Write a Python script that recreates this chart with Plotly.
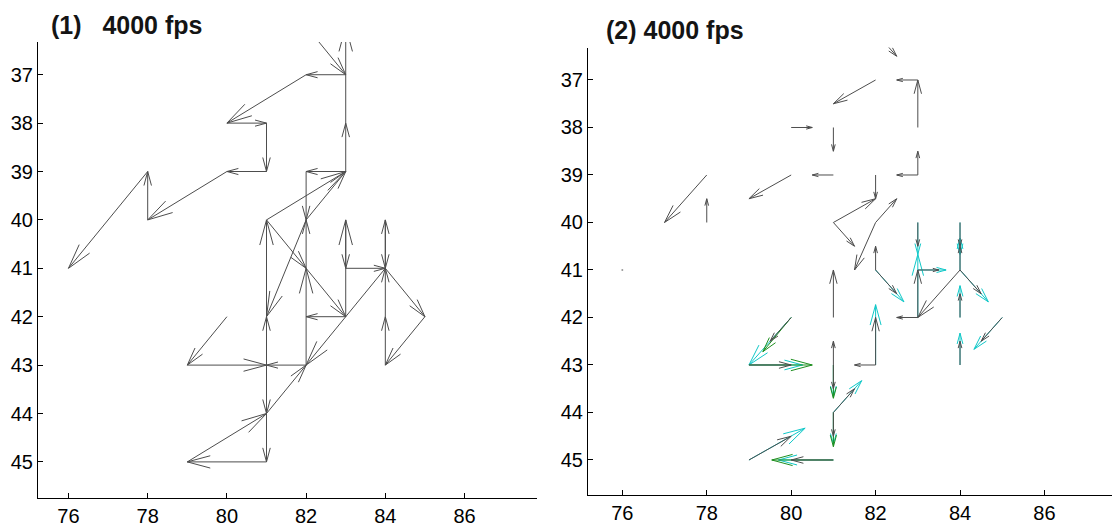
import numpy as np
import plotly.graph_objects as go

# ---------------- data ----------------
# Panel (1): displacement vectors (start x, start y, u, v)
p1_x = [82, 83, 82, 80, 81, 81, 80, 78, 78, 76,
        83, 83, 81, 82, 83, 82, 82, 82, 81, 82,
        83, 83, 83, 83, 84, 84, 84, 84, 84, 85,
        84, 82, 81, 81, 80, 79, 82, 81, 81, 81, 81, 79]
p1_y = [36, 37, 37, 38, 38, 39, 39, 40, 39, 41,
        39, 38, 40, 40, 39, 39, 41, 40, 40, 41,
        42, 42, 40, 41, 40, 41, 42, 43, 41, 42,
        41, 43, 42, 43, 42, 43, 43, 43, 44, 44, 45, 45]
p1_u = [1, -1, -2, 1, 0, -1, -2, 0, -2, 0,
        0, 0, 2, 1, -1, 0, 0, -1, 1, 1,
        -1, 0, 0, 1, 0, 0, 0, 0, 1, -1,
        -2, 0, 0, 0, -1, 2, -1, 0, 1, 0, -2, 2]
p1_v = [1, 0, 1, 0, 1, 0, 1, -1, 2, 0,
        -1, -2, -1, -1, 0, 1, -1, 2, 1, 1,
        0, -2, 1, 0, 1, -1, -1, -1, 1, 1,
        2, -2, -2, -1, 1, 0, 0, 1, -1, 1, 0, -1]

# Panel (2): grey vectors (half-length displacement)
p2_scale = 0.5

# Panel (2): cyan vectors
c_x = [83, 83, 83, 84, 84, 84, 84, 84, 85, 82, 82, 80, 79, 81, 81, 81, 81, 79]
c_y = [40, 42, 41, 40, 41, 41, 42, 43, 42, 41, 43, 42, 43, 43, 44, 44, 45, 45]
c_u = [0, 0, 0.67, 0, 0, 0.67, 0, 0, -0.67, 0.67, 0, -1.0, 1.27, 0, 0.67, 0, -1.3, 1.33]
c_v = [0.67, -1.33, 0, 0.67, -0.67, 0.67, -0.67, -0.67, 0.67, 0.67, -1.27, 1.0, 0, 0.67, -0.67, 0.67, 0, -0.67]

# Panel (2): green vectors
g_x = [80, 79, 81, 81, 81]
g_y = [42, 43, 43, 44, 45]
g_u = [-0.67, 1.5, 0, 0, -1.46]
g_v = [0.72, 0, 0.7, 0.72, 0]

x_ticks = [76, 78, 80, 82, 84, 86]
y_ticks = [37, 38, 39, 40, 41, 42, 43, 44, 45]
titles = ["(1)\u00a0\u00a0 4000 fps", "(2) 4000 fps"]

W, H = 1112, 529
# axis placement (pixels) and ranges
L_dom = (38, 537, 42, 498)      # left, right, top, bottom
L_xr = (75.23, 87.83)
L_yr = (36.324, 45.746)
R_dom = (588, 1112, 47.5, 495)
R_xr = (75.187, 87.60)
R_yr = (36.316, 45.737)


# ---------------- helpers ----------------
def quiver_xy(xs, ys, us, vs, dom, xr, yr, scale=1.0, ratio=0.3, cap=26.0, ang=15.0):
    sx = (dom[1] - dom[0]) / (xr[1] - xr[0])
    sy = (dom[3] - dom[2]) / (yr[1] - yr[0])
    ca, sa = np.cos(np.radians(ang)), np.sin(np.radians(ang))
    X, Y = [], []
    for x, y, u, v in zip(xs, ys, us, vs):
        u = u * scale
        v = v * scale
        if u == 0 and v == 0:
            continue
        tx, ty = x + u, y + v
        X += [x, tx, None]
        Y += [y, ty, None]
        dx, dy = u * sx, v * sy
        L = np.hypot(dx, dy)
        h = min(ratio * L, cap)
        bx, by = -dx / L, -dy / L
        b1 = (bx * ca - by * sa, bx * sa + by * ca)
        b2 = (bx * ca + by * sa, -bx * sa + by * ca)
        X += [tx + h * b1[0] / sx, tx, tx + h * b2[0] / sx, None]
        Y += [ty + h * b1[1] / sy, ty, ty + h * b2[1] / sy, None]
    return X, Y


GREY = "#4d4d4d"
CYAN = "#10c8c8"
GREEN = "#1f8f1f"

fig = go.Figure()

# panel 1
X, Y = quiver_xy(p1_x, p1_y, p1_u, p1_v, L_dom, L_xr, L_yr)
fig.add_trace(go.Scatter(x=X, y=Y, mode="lines", line=dict(color=GREY, width=1),
                         xaxis="x", yaxis="y", hoverinfo="skip"))

# panel 2
X, Y = quiver_xy(c_x, c_y, c_u, c_v, R_dom, R_xr, R_yr, ratio=0.35)
fig.add_trace(go.Scatter(x=X, y=Y, mode="lines", line=dict(color=CYAN, width=1),
                         xaxis="x2", yaxis="y2", hoverinfo="skip"))
X, Y = quiver_xy(g_x, g_y, g_u, g_v, R_dom, R_xr, R_yr, ratio=0.35)
fig.add_trace(go.Scatter(x=X, y=Y, mode="lines", line=dict(color=GREEN, width=1),
                         xaxis="x2", yaxis="y2", hoverinfo="skip"))
X, Y = quiver_xy(p1_x, p1_y, p1_u, p1_v, R_dom, R_xr, R_yr, scale=p2_scale)
fig.add_trace(go.Scatter(x=X, y=Y, mode="lines", line=dict(color=GREY, width=1),
                         xaxis="x2", yaxis="y2", hoverinfo="skip"))
zx = [x for x, u, v in zip(p1_x, p1_u, p1_v) if u == 0 and v == 0]
zy = [y for y, u, v in zip(p1_y, p1_u, p1_v) if u == 0 and v == 0]
fig.add_trace(go.Scatter(x=zx, y=zy, mode="markers", marker=dict(color="#999", size=2),
                         xaxis="x2", yaxis="y2", hoverinfo="skip"))

font = dict(family="Liberation Sans, Arial, sans-serif", size=20, color="black")
ax_common = dict(showline=True, linecolor="black", linewidth=1, ticks="inside", ticklen=5,
                 tickcolor="black", showgrid=False, zeroline=False, tickfont=font)

fig.update_layout(
    width=W, height=H, margin=dict(l=0, r=0, t=0, b=0),
    plot_bgcolor="white", paper_bgcolor="white", showlegend=False,
    xaxis=dict(domain=[L_dom[0] / W, L_dom[1] / W], range=list(L_xr), tickvals=x_ticks,
               anchor="y", **ax_common),
    yaxis=dict(domain=[(H - L_dom[3]) / H, (H - L_dom[2]) / H], range=[L_yr[1], L_yr[0]],
               tickvals=y_ticks, anchor="x", **ax_common),
    xaxis2=dict(domain=[R_dom[0] / W, R_dom[1] / W], range=list(R_xr), tickvals=x_ticks,
                anchor="y2", **ax_common),
    yaxis2=dict(domain=[(H - R_dom[3]) / H, (H - R_dom[2]) / H], range=[R_yr[1], R_yr[0]],
                tickvals=y_ticks, anchor="x2", **ax_common),
)

tfont = dict(family="Liberation Sans, Arial, sans-serif", size=25, color="#141414")
fig.add_annotation(text="<b>" + titles[0] + "</b>", xref="paper", yref="paper",
                   x=49 / W, y=1 - 25 / H, xanchor="left", yanchor="middle", showarrow=False, font=tfont)
fig.add_annotation(text="<b>" + titles[1] + "</b>", xref="paper", yref="paper",
                   x=604 / W, y=1 - 30 / H, xanchor="left", yanchor="middle", showarrow=False, font=tfont)

fig.write_html("out.html")
